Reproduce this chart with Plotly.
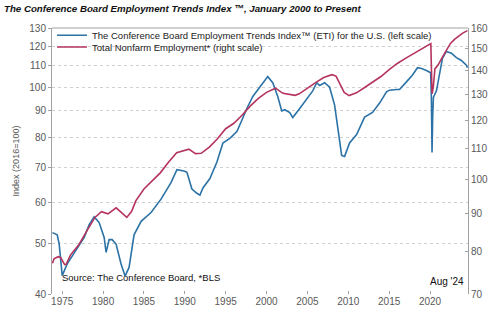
import plotly.graph_objects as go
import math

# ETI (left scale, 2016=100)
eti_year = [1973.8, 1974.39, 1974.63, 1975.0, 1975.61, 1976.47, 1977.69, 1978.30, 1978.91, 1979.52,
            1980.13, 1980.37, 1980.74, 1981.10, 1981.59, 1982.20, 1982.69, 1983.18, 1983.79, 1984.65,
            1985.87, 1987.09, 1988.31, 1989.04, 1989.90, 1990.26, 1990.87, 1991.48, 1991.85, 1992.22,
            1993.07, 1993.93, 1994.66, 1995.51, 1996.37, 1996.98, 1997.59, 1998.32, 1999.18, 1999.79,
            2000.15, 2000.76, 2001.37, 2001.86, 2002.23, 2002.84, 2003.21, 2004.06, 2004.92, 2005.65,
            2006.14, 2006.50, 2007.11, 2007.72, 2008.33, 2008.70, 2009.19, 2009.55, 2010.16, 2011.02,
            2012.0, 2012.97, 2013.83, 2014.68, 2015.05, 2015.90, 2016.27, 2017.12, 2017.86, 2018.47,
            2018.96, 2019.57, 2020.08, 2020.17, 2020.25, 2020.33, 2020.42, 2020.79, 2021.15, 2021.52,
            2022.0, 2022.62, 2023.23, 2023.84, 2024.45, 2024.58]
eti_val = [52.5, 52.0, 49.9, 43.4, 45.7, 48.1, 51.4, 54.4, 56.3, 54.9,
           51.4, 48.1, 50.9, 50.9, 49.9, 45.7, 43.3, 45.0, 52.0, 55.2,
           57.4, 60.9, 65.5, 69.4, 69.0, 68.6, 63.7, 62.5, 62.0, 64.0,
           66.7, 71.8, 78.1, 79.7, 82.2, 86.4, 91.0, 96.0, 100.0, 103.0,
           104.8, 102.0, 96.0, 90.0, 90.5, 89.4, 87.4, 91.0, 95.0, 98.4,
           102.0, 100.8, 102.0, 100.0, 92.4, 83.2, 73.9, 73.6, 78.1, 81.1,
           87.6, 89.4, 93.2, 98.0, 98.7, 99.0, 99.0, 102.4, 105.6, 109.0,
           108.6, 107.7, 106.6, 95.0, 74.9, 88.0, 95.7, 98.4, 105.6, 113.6,
           117.2, 116.3, 114.0, 112.6, 110.3, 109.0]

# Total nonfarm employment, millions (right scale)
nfp_year = [1973.8, 1974.0, 1974.5, 1974.8, 1975.3, 1975.5, 1976.0, 1977.0, 1978.0, 1979.0,
            1979.8, 1980.4, 1980.6, 1981.6, 1982.0, 1982.9, 1983.5, 1984.0, 1985.0, 1986.0,
            1987.0, 1988.0, 1989.0, 1990.5, 1991.3, 1992.0, 1993.0, 1994.0, 1995.0, 1996.0,
            1997.0, 1998.0, 1999.0, 2000.0, 2001.1, 2002.0, 2003.5, 2004.0, 2005.0, 2006.0,
            2007.0, 2008.0, 2008.5, 2009.0, 2009.5, 2010.1, 2011.0, 2012.0, 2013.0, 2014.0,
            2015.0, 2016.0, 2017.0, 2018.0, 2019.0, 2020.1, 2020.25, 2020.4, 2020.6, 2021.0,
            2021.5, 2022.0, 2022.5, 2023.0, 2023.5, 2024.0, 2024.58]
nfp_val = [77.0, 78.1, 78.6, 78.4, 76.7, 76.8, 79.0, 81.5, 85.1, 88.8,
           90.4, 90.0, 89.8, 91.5, 90.6, 88.8, 90.5, 93.5, 97.0, 99.5,
           102.0, 105.4, 108.6, 109.8, 108.3, 108.4, 110.5, 113.4, 117.0, 119.0,
           122.0, 125.5, 128.6, 131.0, 132.7, 130.6, 129.8, 130.4, 132.5, 135.0,
           137.2, 138.4, 137.8, 134.0, 131.0, 129.7, 130.8, 133.0, 135.2, 137.6,
           140.6, 143.3, 145.6, 147.7, 150.2, 152.4, 130.4, 133.0, 140.9, 142.7,
           146.0, 149.4, 152.5, 154.4, 156.0, 157.5, 158.7]

x_ticks = [1975, 1980, 1985, 1990, 1995, 2000, 2005, 2010, 2015, 2020]
left_ticks = [40, 50, 60, 70, 80, 90, 100, 110, 120, 130]
right_ticks = [70, 80, 90, 100, 110, 120, 130, 140, 150, 160]

BLUE = "#2B72A6"
RED = "#B4345E"
GRAY = "#595959"
FONT = "Liberation Sans, Arial, sans-serif"

fig = go.Figure()
fig.add_trace(go.Scatter(x=eti_year, y=eti_val, mode="lines", legend="legend",
                         name="The Conference Board Employment Trends Index\u2122 (ETI) for the U.S. (left scale)",
                         line=dict(color=BLUE, width=1.6)))
fig.add_trace(go.Scatter(x=nfp_year, y=nfp_val, mode="lines", yaxis="y2", legend="legend2",
                         name="Total Nonfarm Employment* (right scale)",
                         line=dict(color=RED, width=1.6)))

leg_common = dict(xanchor="left", yanchor="top", bgcolor="rgba(255,255,255,0)",
                  font=dict(size=9.5, color="#222222"), itemwidth=30, borderwidth=0)

fig.update_layout(
    width=500, height=319,
    margin=dict(l=52, r=31, t=28, b=18),
    paper_bgcolor="white", plot_bgcolor="white",
    font=dict(family=FONT, size=10, color=GRAY),
    showlegend=True,
    legend=dict(x=0.0, y=1.027, **leg_common),
    legend2=dict(x=0.0, y=0.983, **leg_common),
    title=dict(text="<b><i>The Conference Board Employment Trends Index \u2122, January 2000 to Present</i></b>",
               x=0.008, xanchor="left", y=0.985, yanchor="top",
               font=dict(size=9.7, color="#111111", family=FONT)),
    xaxis=dict(range=[1973.75, 2024.65], tickvals=x_ticks, ticktext=[str(t) for t in x_ticks],
               showgrid=False, zeroline=False, showline=False,
               ticks="inside", ticklen=3, tickcolor="#A0A0A0",
               tickfont=dict(size=10, color=GRAY)),
    yaxis=dict(type="log", range=[math.log10(40), math.log10(130)], tickvals=left_ticks,
               showgrid=True, gridcolor="#D0D0D0", griddash="dot", gridwidth=1,
               showline=True, linecolor="#A0A0A0", linewidth=1,
               ticks="outside", ticklen=3, tickcolor="#A0A0A0",
               tickfont=dict(size=10, color=GRAY),
               title=dict(text="Index (2016=100)", font=dict(size=9, color=GRAY), standoff=8)),
    yaxis2=dict(type="log", range=[math.log10(70), math.log10(160)], tickvals=right_ticks,
                overlaying="y", side="right", showgrid=False,
                showline=True, linecolor="#A0A0A0", linewidth=1,
                ticks="inside", ticklen=3, tickcolor="#A0A0A0",
                tickfont=dict(size=10, color=GRAY)),
    shapes=[dict(type="line", xref="paper", yref="paper", x0=0, x1=1, y0=1, y1=1,
                 line=dict(color="#A0A0A0", width=1))],
    annotations=[
        dict(text="Source: The Conference Board, *BLS", xref="paper", yref="paper",
             x=0.02, y=0.035, xanchor="left", yanchor="bottom", showarrow=False,
             font=dict(size=9.5, color="#111111")),
        dict(text="Aug '24", xref="paper", yref="paper",
             x=0.995, y=0.02, xanchor="right", yanchor="bottom", showarrow=False,
             font=dict(size=10, color="#111111")),
    ],
)

fig.write_html("out.html")
